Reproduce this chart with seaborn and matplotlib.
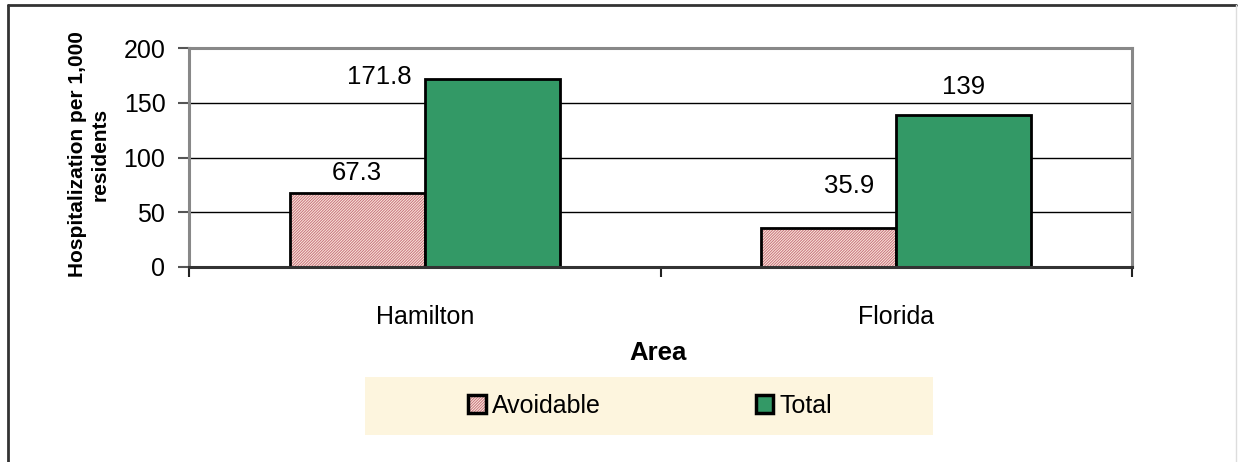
import matplotlib
matplotlib.use("Agg")
import matplotlib.pyplot as plt
from matplotlib.patches import Rectangle
from matplotlib.lines import Line2D
from matplotlib.colors import to_rgba
import seaborn as sns
import pandas as pd

# Hospitalization rates per 1,000 residents
areas = ["Hamilton", "Florida"]
series = ["Avoidable", "Total"]
avoidable = [67.3, 35.9]
total = [171.8, 139]
y_ticks = [0, 50, 100, 150, 200]

df = pd.DataFrame({
    "Area": areas * 2,
    "Type": [series[0]] * len(areas) + [series[1]] * len(areas),
    "Rate": avoidable + total,
})

sns.set_theme(style="white")
plt.rcParams["font.family"] = ["Liberation Sans", "DejaVu Sans"]
plt.rcParams["hatch.linewidth"] = 0.7
plt.rcParams["text.color"] = "black"
plt.rcParams["xtick.color"] = "black"
plt.rcParams["ytick.color"] = "black"

W, H = 1238, 462
fig = plt.figure(figsize=(W / 100, H / 100), dpi=100)
fig.patch.set_facecolor("white")

def fx(px):
    return px / W

def fy(py):
    return 1 - py / H

ax = fig.add_axes([fx(189), fy(267), fx(1132) - fx(189), fy(48) - fy(267)])

green = "#339966"
pink_face = "#FAEBDC"
pink_hatch = "#C8707E"
hatch_pat = "/" * 12


def pink_hatching(patch):
    patch.set_hatch(hatch_pat)
    if hasattr(patch, "set_hatchcolor"):
        patch.set_hatchcolor(pink_hatch)
    else:
        patch._hatch_color = to_rgba(pink_hatch)


sns.barplot(data=df, x="Area", y="Rate", hue="Type", order=areas,
            hue_order=series, palette=[pink_face, green], width=0.573,
            edgecolor="black", linewidth=2, saturation=1, ax=ax, legend=False,
            zorder=3)

for bar in ax.containers[0]:
    pink_hatching(bar)

ax.set_ylim(0, 200)
ax.set_xlim(-0.5, 1.5)
ax.set_yticks(y_ticks)
ax.set_yticklabels([str(t) for t in y_ticks], fontsize=18)
ax.tick_params(axis="y", direction="out", length=8, width=1.5, color="#555555",
               pad=9, left=True, labelcolor="black")
ax.set_xticks([0, 1])
ax.set_xticklabels(areas, fontsize=18)
ax.set_xticks([-0.5, 0.5, 1.5], minor=True)
ax.tick_params(axis="x", which="major", length=0, pad=27, labelcolor="black")
ax.tick_params(axis="x", which="minor", direction="out", length=7, width=1.5,
               color="#222222", bottom=True)
ax.set_xlabel("")
ax.set_ylabel("")

for y in y_ticks[1:-1]:
    ax.axhline(y, color="black", lw=1, zorder=1)

for side in ["left", "top", "right"]:
    ax.spines[side].set_color("#888888")
    ax.spines[side].set_linewidth(2.2)
    ax.spines[side].set_visible(True)
ax.spines["bottom"].set_color("#333333")
ax.spines["bottom"].set_linewidth(2.2)
ax.spines["bottom"].set_zorder(4)

# value labels, nudged in pixels from each bar top
nudges = {
    (0, 0): (0, 20), (0, 1): (20, 42),
    (1, 0): (-113, 2), (1, 1): (0, 28),
}
for si, cont in enumerate(ax.containers):
    vals = avoidable if si == 0 else total
    for ai, (bar, v) in enumerate(zip(cont, vals)):
        dx, dy = nudges[(si, ai)]
        ax.annotate(f"{v:g}", (bar.get_x() + bar.get_width() / 2, v),
                    xytext=(dx, dy), textcoords="offset pixels",
                    ha="center", va="center", fontsize=18.5, color="black",
                    zorder=5, annotation_clip=False)

fig.text(fx(89), fy(154), "Hospitalization per 1,000\nresidents", rotation=90,
         ha="center", va="center", fontsize=15, fontweight="bold",
         linespacing=1.25, multialignment="center", color="black")
fig.text(fx(658), fy(353), "Area", ha="center", va="center", fontsize=18.5,
         fontweight="bold", color="black")

# legend panel
fig.patches.append(Rectangle((fx(365), fy(435)), fx(933) - fx(365),
                             fy(377) - fy(435), transform=fig.transFigure,
                             facecolor="#FDF5DE", edgecolor="none", zorder=0))
h_av = Rectangle((0, 0), 1, 1, facecolor=pink_face, edgecolor="black",
                 linewidth=2.5)
pink_hatching(h_av)
h_tot = Rectangle((0, 0), 1, 1, facecolor=green, edgecolor="black",
                  linewidth=2.5)
leg = fig.legend([h_av, h_tot], series, loc="center",
                 bbox_to_anchor=(fx(650), fy(406)), ncol=2, frameon=False,
                 fontsize=18, handlelength=0.7, handleheight=0.75,
                 handletextpad=0.25, columnspacing=6.2)
for t in leg.get_texts():
    t.set_color("black")
for lh in leg.legend_handles:
    if lh.get_facecolor()[:3] == to_rgba(pink_face)[:3]:
        pink_hatching(lh)

# outer frame
fig.add_artist(Line2D([fx(8), fx(8)], [fy(5), 0], transform=fig.transFigure,
                      color="#333333", lw=2))
fig.add_artist(Line2D([fx(8), fx(1236)], [fy(5), fy(5)],
                      transform=fig.transFigure, color="#333333", lw=2))
fig.add_artist(Line2D([fx(1236), fx(1236)], [fy(5), 0],
                      transform=fig.transFigure, color="#dddddd", lw=1))

fig.savefig("out.png", dpi=100)
